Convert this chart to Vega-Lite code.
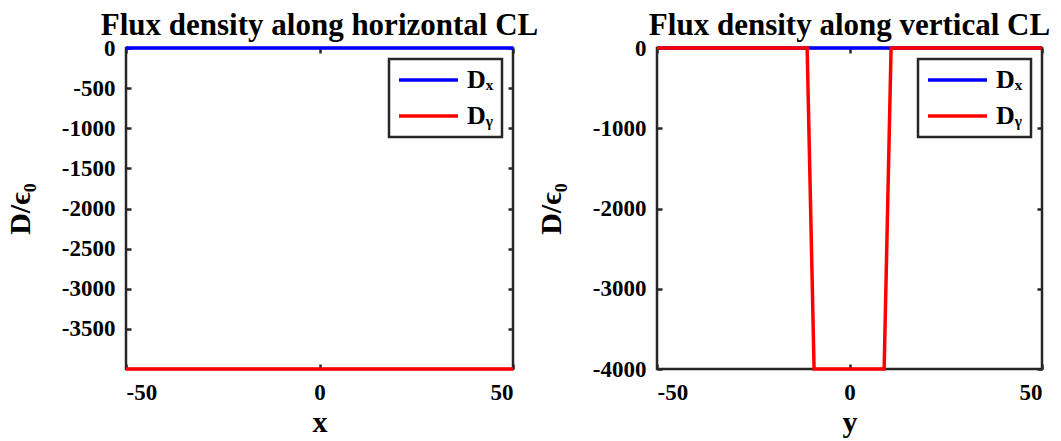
{
  "$schema": "https://vega.github.io/schema/vega-lite/v6.json",
  "background": "white",
  "padding": {"left": 4, "top": 8, "right": 3, "bottom": 0},
  "config": {
    "font": "Liberation Serif",
    "view": {"stroke": "#262626", "strokeWidth": 2.5},
    "axis": {
      "labelFont": "Liberation Serif", "labelFontWeight": "bold", "labelFontSize": 23, "labelColor": "#000",
      "titleFont": "Liberation Serif", "titleFontWeight": "bold", "titleFontSize": 30, "titleColor": "#000",
      "grid": false, "domain": false,
      "tickColor": "#262626", "tickSize": -5, "tickWidth": 2.5,
      "labelExpr": "datum.value + ''"
    },
    "axisX": {"labelPadding": 17, "titlePadding": 3},
    "axisY": {"labelPadding": 16, "titlePadding": 26},
    "title": {"font": "Liberation Serif", "fontWeight": "bold", "fontSize": 31, "color": "#000", "offset": -5},
    "legend": {
      "orient": "top-right", "offset": 11, "strokeColor": "#262626", "strokeWidth": 2.5, "fillColor": "white",
      "padding": 8, "symbolType": "stroke", "symbolSize": 3481, "symbolStrokeWidth": 3.5, "clipHeight": 26,
      "labelFont": "Liberation Serif", "labelFontWeight": "bold", "labelFontSize": 26, "labelColor": "#000",
      "labelOffset": 7, "rowPadding": 10, "title": null
    }
  },
  "datasets": {
    "horizontal": [
      {"pos": -50, "D": 0, "series": "Dₓ"},
      {"pos": 50, "D": 0, "series": "Dₓ"},
      {"pos": -50, "D": -4000, "series": "Dᵧ"},
      {"pos": 50, "D": -4000, "series": "Dᵧ"}
    ],
    "vertical": [
      {"pos": -50, "D": 0, "series": "Dₓ"},
      {"pos": 50, "D": 0, "series": "Dₓ"},
      {"pos": -50, "D": 0, "series": "Dᵧ"},
      {"pos": -11, "D": 0, "series": "Dᵧ"},
      {"pos": -9.2, "D": -4000, "series": "Dᵧ"},
      {"pos": 9, "D": -4000, "series": "Dᵧ"},
      {"pos": 10.8, "D": 0, "series": "Dᵧ"},
      {"pos": 50, "D": 0, "series": "Dᵧ"}
    ]
  },
  "bounds": "flush",
  "spacing": 144,
  "resolve": {"scale": {"color": "independent", "x": "independent", "y": "independent"}, "legend": {"color": "independent"}},
  "hconcat": [
    {
      "title": "Flux density along horizontal CL",
      "width": 387, "height": 321,
      "data": {"name": "horizontal"},
      "resolve": {"axis": {"x": "independent", "y": "independent"}},
      "layer": [
        {
          "mark": {"type": "line", "strokeWidth": 3.5},
          "encoding": {
            "x": {"field": "pos", "type": "quantitative", "scale": {"domain": [-50, 50], "nice": false}, "axis": {"values": [-50, 0, 50], "title": "x"}},
            "y": {"field": "D", "type": "quantitative", "scale": {"domain": [-4000, 0], "nice": false, "zero": false}, "axis": {"values": [0, -500, -1000, -1500, -2000, -2500, -3000, -3500], "title": "D/ϵ₀"}},
            "color": {"field": "series", "type": "nominal", "sort": null, "scale": {"domain": ["Dₓ", "Dᵧ"], "range": ["#0000ff", "#ff0000"]}}
          }
        },
        {
          "mark": {"type": "line", "strokeOpacity": 0},
          "encoding": {
            "x": {"field": "pos", "type": "quantitative", "axis": {"orient": "top", "values": [-50, 0, 50], "labels": false, "title": null}},
            "y": {"field": "D", "type": "quantitative", "axis": {"orient": "right", "values": [0, -500, -1000, -1500, -2000, -2500, -3000, -3500], "labels": false, "title": null}}
          }
        }
      ]
    },
    {
      "title": "Flux density along vertical CL",
      "width": 385, "height": 321,
      "data": {"name": "vertical"},
      "resolve": {"axis": {"x": "independent", "y": "independent"}},
      "layer": [
        {
          "mark": {"type": "line", "strokeWidth": 3.5},
          "encoding": {
            "x": {"field": "pos", "type": "quantitative", "scale": {"domain": [-50, 50], "nice": false}, "axis": {"values": [-50, 0, 50], "title": "y"}},
            "y": {"field": "D", "type": "quantitative", "scale": {"domain": [-4000, 0], "nice": false, "zero": false}, "axis": {"values": [0, -1000, -2000, -3000, -4000], "title": "D/ϵ₀"}},
            "color": {"field": "series", "type": "nominal", "sort": null, "scale": {"domain": ["Dₓ", "Dᵧ"], "range": ["#0000ff", "#ff0000"]}}
          }
        },
        {
          "mark": {"type": "line", "strokeOpacity": 0},
          "encoding": {
            "x": {"field": "pos", "type": "quantitative", "axis": {"orient": "top", "values": [-50, 0, 50], "labels": false, "title": null}},
            "y": {"field": "D", "type": "quantitative", "axis": {"orient": "right", "values": [0, -1000, -2000, -3000, -4000], "labels": false, "title": null}}
          }
        }
      ]
    }
  ]
}
